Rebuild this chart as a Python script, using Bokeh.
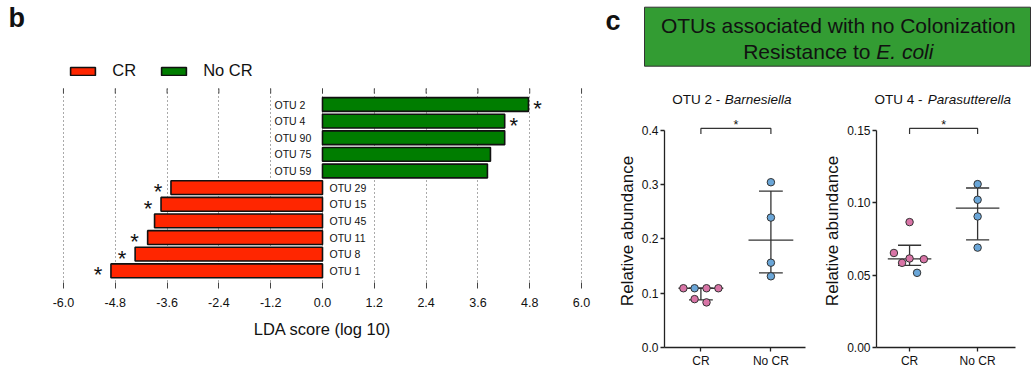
import math
from bokeh.plotting import figure
from bokeh.models import (ColumnDataSource, Range1d, FixedTicker, PrintfTickFormatter,
                          Legend, LegendItem, Label, BoxAnnotation)
from bokeh.layouts import row, column
from bokeh.core.properties import value
from bokeh.embed import file_html
from bokeh.resources import INLINE

FONT = "Liberation Sans"

# ---------------- panel b data (LDA effect size) ----------------
otu_names = ["OTU 2", "OTU 4", "OTU 90", "OTU 75", "OTU 59",
             "OTU 29", "OTU 15", "OTU 45", "OTU 11", "OTU 8", "OTU 1"]
lda_scores = [4.77, 4.22, 4.22, 3.89, 3.82,
              -3.51, -3.74, -3.89, -4.05, -4.34, -4.90]
lda_significant = [True, True, False, False, False,
                   True, True, False, True, True, True]
lda_ticks = [-6.0, -4.8, -3.6, -2.4, -1.2, 0.0, 1.2, 2.4, 3.6, 4.8, 6.0]
group_names = ["CR", "No CR"]
group_colors = ["#ff2600", "#007d00"]

# ---------------- panel c data (relative abundance) ----------------
PINK = "#d874a6"
BLUE = "#6aa6d8"
otu2_cr = [0.109, 0.109, 0.109, 0.109, 0.089, 0.083]
otu2_cr_colors = [PINK, BLUE, PINK, PINK, PINK, PINK]
otu2_nocr = [0.304, 0.239, 0.156, 0.131]
otu2_nocr_colors = [BLUE, BLUE, BLUE, BLUE]
otu4_cr = [0.0865, 0.0652, 0.0584, 0.0614, 0.0609, 0.0515]
otu4_cr_colors = [PINK, PINK, PINK, PINK, PINK, BLUE]
otu4_nocr = [0.1127, 0.1019, 0.0904, 0.0689]
otu4_nocr_colors = [BLUE, BLUE, BLUE, BLUE]
otu2_ticks = [0.0, 0.1, 0.2, 0.3, 0.4]
otu4_ticks = [0.00, 0.05, 0.10, 0.15]

# horizontal spread of the dots inside a column (layout only)
otu2_cr_spread = [-0.25, -0.09, 0.08, 0.25, -0.09, 0.08]
otu4_cr_spread = [0.0, -0.23, -0.11, 0.0, 0.21, 0.11]
nocr_spread = [0.0, 0.0, 0.0, 0.0]

TXT = "#111111"


def style_text(lbl, size, style="normal"):
    lbl.text_font = FONT
    lbl.text_font_size = size
    lbl.text_font_style = style
    lbl.text_color = TXT
    return lbl


def blank_fig(w, h):
    f = figure(width=w, height=h, x_range=Range1d(0, w), y_range=Range1d(h, 0),
               toolbar_location=None, output_backend="svg", x_axis_location=None,
               y_axis_location=None, min_border=0)
    f.outline_line_color = None
    f.xgrid.grid_line_color = None
    f.ygrid.grid_line_color = None
    return f


# ======================= panel b =======================
ROW_PX = 16.63
TOP_STRIP = 40          # height of the strip holding the panel letter
n_rows = len(otu_names)
y_bars_top = -16.0 / ROW_PX                     # top edge of the bar area
y_frame_top = y_bars_top - (88 - TOP_STRIP) / ROW_PX   # room for the legend
y_bot = n_rows - 1 + 17.7 / ROW_PX
pb = figure(width=598, height=370 - TOP_STRIP, x_range=Range1d(-6.3, 6.3),
            y_range=Range1d(y_bot, y_frame_top),
            toolbar_location=None, output_backend="svg", y_axis_location=None,
            min_border_left=50, min_border_right=4, min_border_top=0, min_border_bottom=82)
pb.outline_line_color = None
pb.ygrid.grid_line_color = None

ticker = FixedTicker(ticks=lda_ticks)
xax = pb.xaxis[0]
xax.ticker = ticker
xax.formatter = PrintfTickFormatter(format="%.1f")
xax.axis_line_color = None
xax.major_tick_in = 6
xax.major_tick_out = 0
xax.major_tick_line_color = "#444444"
xax.minor_tick_line_color = None
xax.major_label_text_font = FONT
xax.major_label_text_font_size = "12.5px"
xax.major_label_text_color = TXT
xax.major_label_standoff = 9
xax.axis_label = "LDA score (log 10)"
xax.axis_label_text_font = FONT
xax.axis_label_text_font_size = "16.5px"
xax.axis_label_text_font_style = "normal"
xax.axis_label_text_color = TXT
xax.axis_label_standoff = 10

grid = pb.xgrid[0]
grid.ticker = ticker
if "cross_bounds" in grid.properties():
    grid.cross_bounds = (y_bars_top, y_bot)
    grid.grid_line_color = "#555555"
    grid.grid_line_dash = "1 3"
    grid.grid_line_width = 1
else:
    grid.grid_line_color = None
    pb.segment(x0=lda_ticks, x1=lda_ticks, y0=[y_bars_top] * len(lda_ticks),
               y1=[y_bot] * len(lda_ticks), line_color="#555555", line_dash="1 3", line_width=1)

# short tick marks along the top edge of the bar area, at the same tick values
pb.segment(x0=lda_ticks, x1=lda_ticks, y0=[y_bars_top] * len(lda_ticks),
           y1=[y_bars_top + 5 / ROW_PX] * len(lda_ticks), line_color="#444444", line_width=1)

rows_idx = list(range(n_rows))
bar_renderers = []
for gi, gname in enumerate(group_names):
    sel = [i for i in rows_idx if (lda_scores[i] < 0) == (gi == 0)]
    src = ColumnDataSource(dict(y=[rows_idx[i] for i in sel], v=[lda_scores[i] for i in sel]))
    bar_renderers.append(pb.hbar(y="y", left=0, right="v", height=0.83, source=src,
                                 fill_color=group_colors[gi], line_color="#111111",
                                 line_width=1.6))

# OTU names beside the zero line
lab_src = ColumnDataSource(dict(
    x=[0.0] * n_rows, y=rows_idx, text=otu_names,
    off=[-48 if v > 0 else 7 for v in lda_scores]))
pb.text(x="x", y="y", text="text", x_offset="off", source=lab_src,
        text_font=value(FONT), text_font_size="10.5px", text_align="left",
        text_baseline="middle", text_color=TXT)

# significance stars at the bar ends
star_src = ColumnDataSource(dict(
    x=lda_scores, y=rows_idx, text=["*" if s else "" for s in lda_significant],
    off=[9 if v > 0 else -13 for v in lda_scores]))
pb.text(x="x", y="y", text="text", x_offset="off", y_offset=4, source=star_src,
        text_font=value(FONT), text_font_size="22px", text_align="center",
        text_baseline="middle", text_color=TXT)

legend = Legend(items=[LegendItem(label=group_names[i], renderers=[bar_renderers[i]])
                       for i in range(len(group_names))],
                orientation="horizontal", location=(17.3, 208), glyph_width=31, glyph_height=10,
                label_standoff=14, spacing=22, padding=0, margin=0, border_line_color=None,
                background_fill_alpha=0, label_text_font=FONT, label_text_font_size="16.5px",
                label_text_color=TXT)
pb.add_layout(legend)

# strip above panel b with the panel letter
pbh = blank_fig(598, TOP_STRIP)
pbh.add_layout(style_text(Label(x=8, y=17.3, text="b", text_baseline="middle",
                                text_align="left"), "27px", "bold"))


# ======================= panel c header (box + titles) =======================
ph = blank_fig(433, 112)
ph.add_layout(BoxAnnotation(left=46, right=432, top=6.7, bottom=65.7, fill_color="#339c33",
                            fill_alpha=1.0, line_color="#333333", line_width=1, line_alpha=1.0))
ph.add_layout(style_text(Label(x=239.8, y=25, text="OTUs associated with no Colonization",
                               text_align="center", text_baseline="middle"), "21px"))
line2_start = 239.8 - 9.059 * 21 / 2
ph.add_layout(style_text(Label(x=line2_start, y=51.2, text="Resistance to",
                               text_align="left", text_baseline="middle"), "21px"))
ph.add_layout(style_text(Label(x=line2_start + 6.336 * 21, y=51.2, text="E. coli",
                               text_align="left", text_baseline="middle"), "21px", "italic"))
ph.add_layout(style_text(Label(x=7, y=20, text="c", text_align="left",
                               text_baseline="middle"), "27px", "bold"))
for (ta, tb, xa, xb) in [("OTU 2 -", "Barnesiella", 73.7, 126.3),
                         ("OTU 4 -", "Parasutterella", 276.0, 329.3)]:
    ph.add_layout(style_text(Label(x=xa, y=98.5, text=ta, text_align="left",
                                   text_baseline="middle"), "13.5px"))
    ph.add_layout(style_text(Label(x=xb, y=98.5, text=tb, text_align="left",
                                   text_baseline="middle"), "13.5px", "italic"))


# ======================= panel c scatter plots =======================
def prism_quantile(vals, p):
    s = sorted(vals)
    n = len(s)
    pos = p * (n + 1)
    k = int(math.floor(pos))
    f = pos - k
    if k < 1:
        return s[0]
    if k >= n:
        return s[-1]
    return s[k - 1] + f * (s[k] - s[k - 1])


FRAME_H = 234
AXIS_PX = 218.4


def scatter_panel(width, min_left, min_right, x_start, frame_w, ymax, yticks, fmt, groups):
    ytop = ymax * FRAME_H / AXIS_PX
    p = figure(width=width, height=258, x_range=Range1d(x_start, x_start + frame_w / 70.0),
               y_range=Range1d(0, ytop),
               toolbar_location=None, output_backend="svg",
               min_border_left=min_left, min_border_right=min_right,
               min_border_top=2, min_border_bottom=22)
    p.outline_line_color = None
    p.xgrid.grid_line_color = None
    p.ygrid.grid_line_color = None
    for ax in (p.xaxis[0], p.yaxis[0]):
        ax.axis_line_color = "#222222"
        ax.axis_line_width = 1.3
        ax.major_tick_line_color = "#222222"
        ax.major_tick_line_width = 1.3
        ax.major_tick_in = 0
        ax.major_tick_out = 4
        ax.minor_tick_line_color = None
        ax.major_label_text_font = FONT
        ax.major_label_text_font_size = "12px"
        ax.major_label_text_color = TXT
        ax.major_label_standoff = 2
    p.xaxis[0].ticker = FixedTicker(ticks=list(range(len(group_names))))
    p.xaxis[0].major_label_overrides = {i: g for i, g in enumerate(group_names)}
    p.yaxis[0].ticker = FixedTicker(ticks=yticks)
    p.yaxis[0].formatter = PrintfTickFormatter(format=fmt)
    p.yaxis[0].bounds = (0, ymax)
    p.yaxis[0].axis_label = "Relative abundance"
    p.yaxis[0].axis_label_text_font = FONT
    p.yaxis[0].axis_label_text_font_size = "17px"
    p.yaxis[0].axis_label_text_font_style = "normal"
    p.yaxis[0].axis_label_text_color = TXT
    p.yaxis[0].axis_label_standoff = 2

    # median with interquartile range
    for gi, (vals, cols, spread) in enumerate(groups):
        med = prism_quantile(vals, 0.5)
        q1 = prism_quantile(vals, 0.25)
        q3 = prism_quantile(vals, 0.75)
        p.segment(x0=[gi - 0.32, gi, gi - 0.17, gi - 0.17], x1=[gi + 0.32, gi, gi + 0.17, gi + 0.17],
                  y0=[med, q1, q1, q3], y1=[med, q3, q1, q3], line_color="#333333", line_width=1.3)
    for gi, (vals, cols, spread) in enumerate(groups):
        src = ColumnDataSource(dict(x=[gi + s for s in spread], y=vals, c=cols))
        p.scatter(x="x", y="y", source=src, size=7.5, fill_color="c", line_color="#333333",
                  line_width=1)

    # significance bracket
    b_top = ymax * (1 + 1.6 / AXIS_PX)
    b_low = ymax * (1 - 4.0 / AXIS_PX)
    p.line(x=[0, 0, 1, 1], y=[b_low, b_top, b_top, b_low], line_color="#333333", line_width=1.2)
    p.text(x=[0.5], y=[b_top], text=["*"], y_offset=-3.8, text_font=value(FONT),
           text_font_size="12.5px", text_align="center", text_baseline="middle", text_color=TXT)
    return p


pc1 = scatter_panel(222, 66, 15, -0.52, 141, 0.4, otu2_ticks, "%.1f",
                    [(otu2_cr, otu2_cr_colors, otu2_cr_spread),
                     (otu2_nocr, otu2_nocr_colors, nocr_spread)])
pc2 = scatter_panel(211, 52, 16, -0.486, 143, 0.15, otu4_ticks, "%.2f",
                    [(otu4_cr, otu4_cr_colors, otu4_cr_spread),
                     (otu4_nocr, otu4_nocr_colors, nocr_spread)])

layout = row(column(row(pbh), row(pb)), column(ph, row(pc1, pc2)))

with open("out.html", "w") as f:
    f.write(file_html(layout, INLINE))
